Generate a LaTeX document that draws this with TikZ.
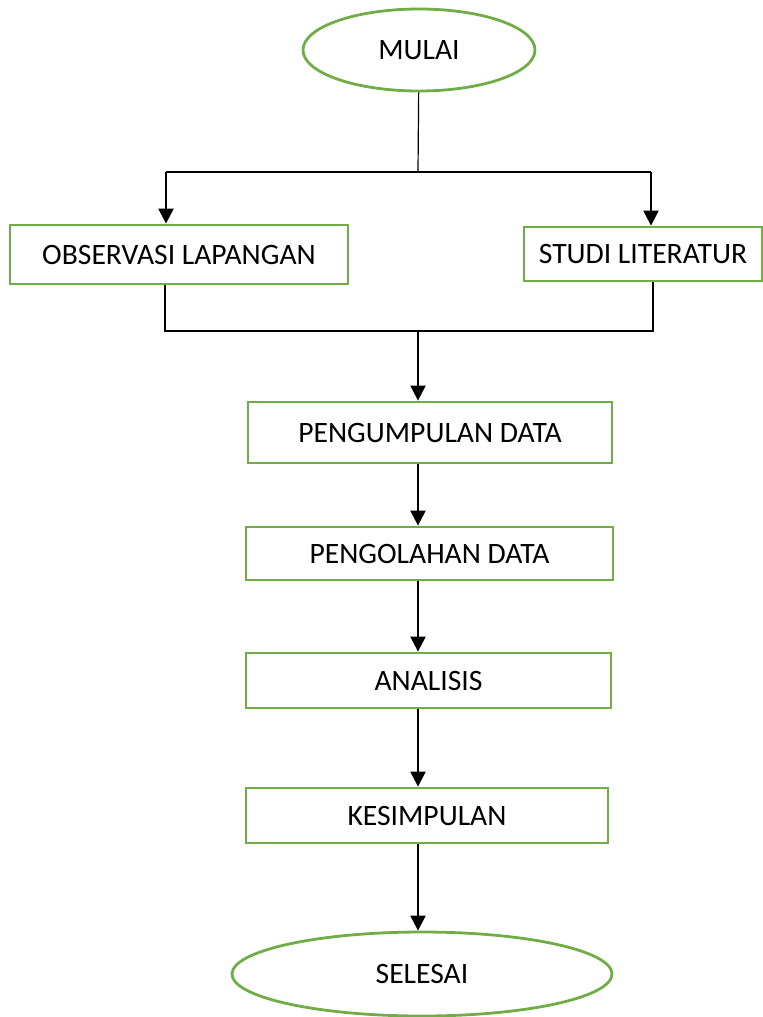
\documentclass[tikz,border=0pt]{standalone}
\usepackage{fontspec}
\setmainfont{Carlito}
\usetikzlibrary{shapes,arrows.meta}
\definecolor{boxgreen}{RGB}{112,173,71}
\tikzstyle{block} = [rectangle, draw=boxgreen, line width=1.4pt, inner sep=0pt,
    text centered, font=\fontsize{14.8}{18}\selectfont]
\tikzstyle{term} = [ellipse, draw=boxgreen, line width=1.4pt, inner sep=0pt,
    font=\fontsize{14.8}{18}\selectfont]
\tikzstyle{line} = [draw, line width=1.1pt, -{Triangle[width=7.5pt,length=7.5pt]}]
\tikzstyle{joint} = [draw, line width=0.6pt]

\begin{document}
\begin{tikzpicture}[x=0.5pt, y=-0.5pt]
	\useasboundingbox (0,0) rectangle (763,1017);

		\node [term, minimum width=116pt, minimum height=41pt] (mulai) at (419,50) {MULAI};

		\node [block, minimum width=169pt, minimum height=29.5pt] (observasi) at (179,254.5) {OBSERVASI LAPANGAN};
		\node [block, minimum width=119pt, minimum height=27pt] (studi) at (643,254) {STUDI LITERATUR};
		\node [block, minimum width=182pt, minimum height=30.5pt] (pengumpulan) at (430,432.5) {PENGUMPULAN DATA};
		\node [block, minimum width=183.5pt, minimum height=26.5pt] (pengolahan) at (429.5,553.5) {PENGOLAHAN DATA};
		\node [block, minimum width=182.5pt, minimum height=27.5pt] (analisis) at (428.5,680.5) {ANALISIS};
		\node [block, minimum width=181pt, minimum height=27.5pt] (kesimpulan) at (427,815.5) {KESIMPULAN};

		\node [term, minimum width=190pt, minimum height=42pt] (selesai) at (422,974) {SELESAI};

		\coordinate (split) at (418,172);
		\coordinate (splitl) at (166,172);
		\coordinate (splitr) at (651,172);
		\coordinate (join) at (418,331);
		\coordinate (joinl) at (165,331);
		\coordinate (joinr) at (653,331);

		\path [joint] (mulai) -- (split);
		\path [joint, line width=1pt] (splitl) -- (splitr);
		\path [line] (splitl) -- (splitl |- observasi.north);
		\path [line] (splitr) -- (splitr |- studi.north);

		\path [joint] (joinl |- observasi.south) -- (joinl) -- (joinr) -- (joinr |- studi.south);
		\path [line] (join) -- (join |- pengumpulan.north);
		\path [line] (join |- pengumpulan.south) -- (join |- pengolahan.north);
		\path [line] (join |- pengolahan.south) -- (join |- analisis.north);
		\path [line] (join |- analisis.south) -- (join |- kesimpulan.north);
		\path [line] (join |- kesimpulan.south) -- (join |- selesai.north);
	\end{tikzpicture}
\end{document}
